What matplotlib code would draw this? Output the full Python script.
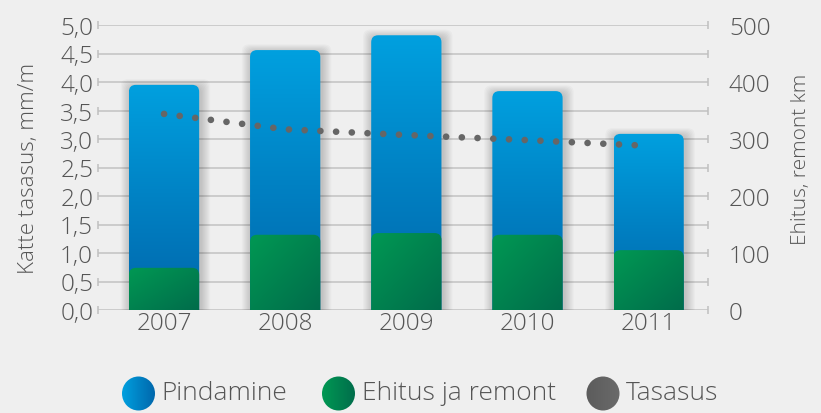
import numpy as np
import matplotlib.pyplot as plt
from matplotlib.path import Path
from matplotlib.patches import PathPatch, Ellipse
from matplotlib.colors import LinearSegmentedColormap

years = ["2007", "2008", "2009", "2010", "2011"]
pindamine_total = [395, 456, 482, 384, 309]   # bar top, km (right axis)
ehitus = [74, 132, 135, 132, 105]             # km (right axis)
tasasus = [3.44, 3.17, 3.07, 2.98, 2.88]      # mm/m (left axis)
left_ticks = [0, 0.5, 1.0, 1.5, 2.0, 2.5, 3.0, 3.5, 4.0, 4.5, 5.0]
right_ticks = [0, 100, 200, 300, 400, 500]
legend_labels = ["Pindamine", "Ehitus ja remont", "Tasasus"]

plt.rcParams["font.family"] = ["Open Sans", "DejaVu Sans"]
plt.rcParams["font.weight"] = "light"
BG = "#efefef"
TXT = "#555555"

blue_cmap = LinearSegmentedColormap.from_list("blue", ["#0066ab", "#0082c4", "#00a0df"])
green_cmap = LinearSegmentedColormap.from_list("green", ["#009853", "#00824f", "#006c4b"])
gray_cmap = LinearSegmentedColormap.from_list("gray", ["#5c5c5c", "#6a6a6a"])

L, B, Wd, H = 98 / 821, 103 / 414, 610 / 821, 285 / 414
fig = plt.figure(figsize=(8.21, 4.14), dpi=100, facecolor=BG)
ax2 = fig.add_axes([L, B, Wd, H])
ax = ax2.twinx()
ax.yaxis.tick_left()
ax.yaxis.set_label_position("left")
ax2.yaxis.tick_right()
ax2.yaxis.set_label_position("right")
ax2.set_facecolor(BG)
ax.patch.set_visible(False)
ax.set_zorder(ax2.get_zorder() + 1)

x = np.arange(len(years))
xlim = (-0.545, 4.49)
ax2.set_xlim(*xlim)
ax2.set_ylim(0, 500)
ax.set_ylim(0, 5)

# grid lines (every 50 km == every 0.5 mm/m)
grid_levels = np.arange(0, 501, 50)
ax2.hlines(grid_levels, *xlim, color="#c9c9c9", lw=1.3, zorder=0)
ax2.plot([xlim[0]] * len(grid_levels), grid_levels, ls="none", marker="|",
         ms=6, mew=1.1, color="#c0c0c0", clip_on=False, zorder=0)
ax2.plot([xlim[1]] * len(grid_levels), grid_levels, ls="none", marker="|",
         ms=6, mew=1.1, color="#c0c0c0", clip_on=False, zorder=0)

W = 0.58
ax_w_px = Wd * 821
ax_h_px = H * 414
rx = 7 / (ax_w_px / (xlim[1] - xlim[0]))
ry = 7 / (ax_h_px / 500)


def top_rounded(x0, x1, y0, y1):
    verts = [(x0, y0), (x0, y1 - ry), (x0, y1), (x0 + rx, y1), (x1 - rx, y1),
             (x1, y1), (x1, y1 - ry), (x1, y0), (x0, y0)]
    codes = [Path.MOVETO, Path.LINETO, Path.CURVE3, Path.CURVE3, Path.LINETO,
             Path.CURVE3, Path.CURVE3, Path.LINETO, Path.CLOSEPOLY]
    return Path(verts, codes)


vgrad = np.linspace(0, 1, 256).reshape(-1, 1)
dgrad = np.add.outer(np.linspace(0, 1, 64), np.linspace(0, 1, 64)) / 2

for xi, tot, gr in zip(x, pindamine_total, ehitus):
    x0, x1 = xi - W / 2, xi + W / 2
    # soft shadow
    for k in range(1, 9):
        dx = k * 1.2 * (xlim[1] - xlim[0]) / ax_w_px
        dy = k * 1.0 * 500 / ax_h_px
        sh = PathPatch(top_rounded(x0 - dx + 0.012, x1 + dx + 0.012, 0, tot + dy - 4),
                       fc="#000000", ec="none", alpha=0.022, zorder=1)
        ax2.add_patch(sh)
    p = PathPatch(top_rounded(x0, x1, 0, tot), fc="none", ec="none", zorder=2)
    ax2.add_patch(p)
    im = ax2.imshow(vgrad, cmap=blue_cmap, extent=[x0, x1, 0, tot], origin="lower",
                    aspect="auto", zorder=2, interpolation="bilinear")
    im.set_clip_path(p)
    g = PathPatch(top_rounded(x0, x1, 0, gr), fc="none", ec="none", zorder=3)
    ax2.add_patch(g)
    im2 = ax2.imshow(dgrad[::-1], cmap=green_cmap, extent=[x0, x1, 0, gr], origin="lower",
                     aspect="auto", zorder=3, interpolation="bilinear")
    im2.set_clip_path(g)

ax2.set_xlim(*xlim)
ax2.set_ylim(0, 500)

# line on left axis
ax.plot(x, tasasus, color="#666666", lw=4.8, ls=(0, (0.01, 2.35)),
        dash_capstyle="round", zorder=5)

ax2.set_xticks(x, years)
ax2.set_yticks(right_ticks, [str(v) for v in right_ticks])
ax.set_yticks(left_ticks, [f"{v:.1f}".replace(".", ",") for v in left_ticks])
for a in (ax, ax2):
    for s in a.spines.values():
        s.set_visible(False)
    a.tick_params(length=0, colors=TXT, labelsize=17.5)
ax2.tick_params(axis="x", pad=1)
ax.tick_params(axis="y", pad=3.5)
ax2.tick_params(axis="y", pad=15)

fig.text(0.035, 0.594, "Katte tasasus, mm/m", rotation=90, ha="center", va="center",
         fontsize=16, color=TXT)
fig.text(0.976, 0.614, "Ehitus, remont km", rotation=90, ha="center", va="center",
         fontsize=15, color=TXT)

# legend with gradient circles
lax = fig.add_axes([0, 0, 1, 1])
lax.set_xlim(0, 821)
lax.set_ylim(414, 0)
lax.axis("off")
lax.patch.set_visible(False)
hgrad = np.linspace(0, 1, 64).reshape(1, -1)
legend_items = [(138.5, blue_cmap.reversed(), legend_labels[0]),
                (338.5, green_cmap, legend_labels[1]),
                (603, gray_cmap, legend_labels[2])]
for cx, cm, lab in legend_items:
    e = Ellipse((cx, 394.5), 33, 34, fc="none", ec="none")
    lax.add_patch(e)
    im = lax.imshow(hgrad, cmap=cm, extent=[cx - 17, cx + 17, 412, 377],
                    aspect="auto", interpolation="bilinear")
    im.set_clip_path(e)
    lax.text(cx + 23, 394, lab, ha="left", va="center", fontsize=19, color=TXT)
lax.set_xlim(0, 821)
lax.set_ylim(414, 0)

fig.savefig("out.png", dpi=100, facecolor=BG)
